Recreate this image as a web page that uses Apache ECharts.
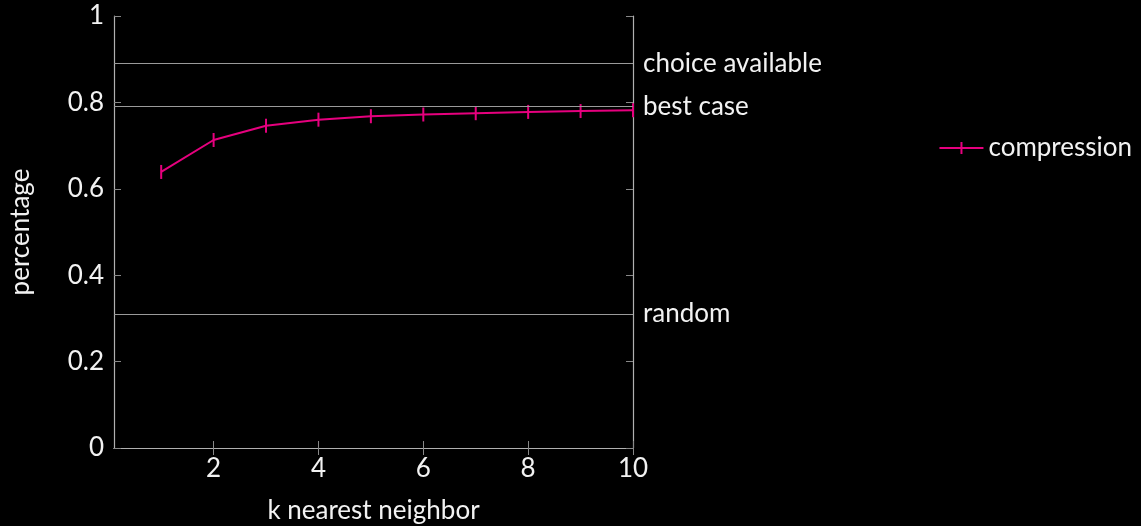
<!DOCTYPE html>
<html>
<head>
<meta charset="utf-8">
<script src="https://cdn.jsdelivr.net/npm/echarts@6/dist/echarts.min.js"></script>
<style>
  html, body { margin: 0; padding: 0; background: #000; }
  #main { width: 1141px; height: 526px; }
</style>
</head>
<body>
<div id="main"></div>
<script>
// k values and compression accuracy
var kValues = [1, 2, 3, 4, 5, 6, 7, 8, 9, 10];
var compression = [0.639, 0.713, 0.746, 0.760, 0.768, 0.772, 0.775, 0.778, 0.780, 0.782];
// reference lines
var refNames = ['choice available', 'best case', 'random'];
var refValues = [0.889, 0.790, 0.310];
var xTicks = [2, 4, 6, 8, 10];

var fontFam = 'Lato';
var fs = 26;
var txt = '#f2f2f2';
var axisCol = '#b0b0b0';
var magenta = '#e6007e';

var chart = echarts.init(document.getElementById('main'));

var points = kValues.map(function (k, i) { return [k, compression[i]]; });
var refLines = refValues.map(function (v, i) {
  return { yAxis: v, label: { formatter: refNames[i] } };
});

function fmtY(v) {
  return v === 0 || v === 1 ? String(v) : v.toFixed(1);
}

// legend icon: line with a vertical tick in the middle
var legendIcon = 'path://M0,5L21,5L21,0L23,0L23,5L44,5L44,7L23,7L23,12L21,12L21,7L0,7Z';

var option = {
  backgroundColor: '#000',
  animation: false,
  textStyle: { fontFamily: fontFam },
  grid: { left: 114, right: 508, top: 16, bottom: 78, outerBoundsMode: 'none' },
  legend: {
    data: [{ name: 'compression', icon: legendIcon }],
    right: 4,
    top: 130,
    itemWidth: 44,
    itemHeight: 12,
    itemGap: 4,
    textStyle: { color: txt, fontSize: fs, fontFamily: fontFam }
  },
  xAxis: [{
    type: 'value',
    min: 0.1,
    max: 10,
    interval: 2,
    name: 'k nearest neighbor',
    nameLocation: 'middle',
    nameGap: 50,
    nameTextStyle: { color: txt, fontSize: fs },
    axisLine: { lineStyle: { color: axisCol, width: 1.2 } },
    axisTick: { inside: true, length: 7, lineStyle: { color: '#888' }, customValues: xTicks },
    axisLabel: { color: txt, fontSize: fs, margin: 8, customValues: xTicks },
    splitLine: { show: false }
  }, {
    type: 'value',
    position: 'top',
    min: 0.1,
    max: 10,
    axisLine: { show: true, lineStyle: { color: axisCol, width: 1.2 } },
    axisTick: { show: true, inside: true, length: 7, lineStyle: { color: '#888' }, customValues: xTicks },
    axisLabel: { show: false },
    splitLine: { show: false }
  }],
  yAxis: [{
    type: 'value',
    min: 0,
    max: 1,
    interval: 0.2,
    name: 'percentage',
    nameLocation: 'middle',
    nameGap: 80,
    nameTextStyle: { color: txt, fontSize: fs },
    axisLine: { show: true, lineStyle: { color: axisCol, width: 1.2 } },
    axisTick: { show: true, inside: true, length: 7, lineStyle: { color: '#888' } },
    axisLabel: { color: txt, fontSize: fs, margin: 10, formatter: fmtY },
    splitLine: { show: false }
  }, {
    type: 'value',
    position: 'right',
    min: 0,
    max: 1,
    interval: 0.2,
    axisLine: { show: true, lineStyle: { color: axisCol, width: 1.2 } },
    axisTick: { show: true, inside: true, length: 7, lineStyle: { color: '#888' } },
    axisLabel: { show: false },
    splitLine: { show: false }
  }],
  series: [{
    name: 'compression',
    type: 'line',
    data: points,
    symbol: 'rect',
    symbolSize: [2, 14],
    showAllSymbol: true,
    lineStyle: { color: magenta, width: 2 },
    itemStyle: { color: magenta },
    markLine: {
      silent: true,
      symbol: 'none',
      lineStyle: { color: '#9a9a9a', width: 1.2, type: 'solid' },
      label: { position: 'end', distance: 10, padding: [5, 0, 0, 0], color: txt, fontSize: fs, fontFamily: fontFam },
      data: refLines
    }
  }]
};

chart.setOption(option);
</script>
</body>
</html>
